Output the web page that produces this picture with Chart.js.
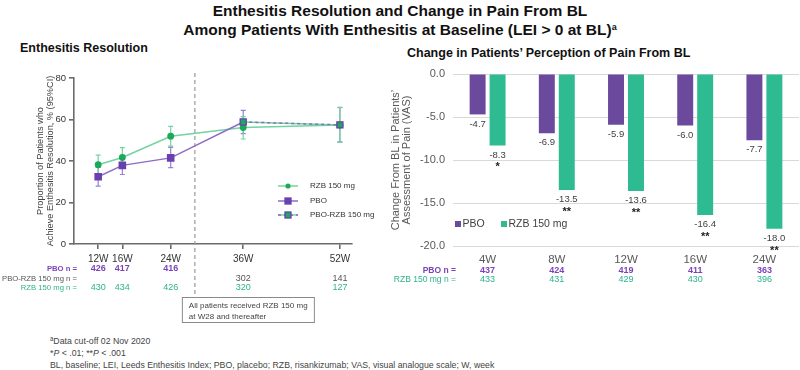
<!DOCTYPE html>
<html>
<head>
<meta charset="utf-8">
<script src="https://cdn.jsdelivr.net/npm/chart.js@4.4.1/dist/chart.umd.min.js"></script>
<style>
    html, body { margin: 0; padding: 0; background: #fff; }
    body { width: 800px; height: 370px; position: relative; overflow: hidden; font-family: 'Liberation Sans', Arial, sans-serif; }
    .title { position: absolute; left: 0; top: 2px; width: 800px; text-align: center; font-weight: bold; font-size: 15.5px; line-height: 17px; color: #111; }
    .title sup { font-size: 9px; vertical-align: 5px; }
    .subtitle { position: absolute; font-weight: bold; font-size: 12.5px; line-height: 14px; color: #111; white-space: nowrap; }
    #leftWrap { position: absolute; left: 0; top: 40px; width: 395px; height: 290px; }
    #rightWrap { position: absolute; left: 390px; top: 40px; width: 410px; height: 250px; }
    .notes { position: absolute; left: 50px; top: 333px; font-size: 9.5px; line-height: 11.8px; color: #444; white-space: nowrap; transform: scaleX(0.92); transform-origin: left top; }
    .notes sup { font-size: 6.5px; vertical-align: 3px; }
</style>
</head>
<body>
<div class="title">Enthesitis Resolution and Change in Pain From BL<br>Among Patients With Enthesitis at Baseline (LEI &gt; 0 at BL)<sup>a</sup></div>
<div class="subtitle" style="left:20px; top:41px;">Enthesitis Resolution</div>
<div class="subtitle" style="left:407px; top:46px;">Change in Patients’ Perception of Pain From BL</div>
<div id="leftWrap"><canvas id="resolutionChart" width="395" height="290"></canvas></div>
<div id="rightWrap"><canvas id="painChart" width="410" height="250"></canvas></div>
<div class="notes">
    <sup>a</sup>Data cut-off 02 Nov 2020<br>
    *<i>P</i> &lt; .01; **<i>P</i> &lt; .001<br>
    BL, baseline; LEI, Leeds Enthesitis Index; PBO, placebo; RZB, risankizumab; VAS, visual analogue scale; W, week
</div>
<script>
// ---- Enthesitis resolution (left panel) ----
const resolutionWeeks = [12, 16, 24, 36, 52];
const resolutionTickLabels = ['12W', '16W', '24W', '36W', '52W'];
const rzbResolution = [38.2, 41.7, 51.9, 56.1, 57.3];
const rzbResolutionLow = [33.6, 37.0, 47.2, 50.6, 49.0];
const rzbResolutionHigh = [42.8, 46.4, 56.7, 61.4, 65.7];
const pboWeeks = [12, 16, 24];
const pboResolution = [32.4, 37.9, 41.5];
const pboResolutionLow = [27.9, 33.5, 36.8];
const pboResolutionHigh = [36.9, 42.3, 46.6];
const pboRzbWeeks = [36, 52];
const pboRzbResolution = [58.8, 57.4];
const pboRzbResolutionLow = [53.2, 49.2];
const pboRzbResolutionHigh = [64.4, 65.8];
const switchWeek = 28;
const pboN = [426, 417, 416, null, null];
const pboRzbN = [null, null, null, 302, 141];
const rzbN = [430, 434, 426, 320, 127];

// ---- Change in pain from BL (right panel) ----
const painVisits = ['4W', '8W', '12W', '16W', '24W'];
const pboPainChange = [-4.7, -6.9, -5.9, -6.0, -7.7];
const rzbPainChange = [-8.3, -13.5, -13.6, -16.4, -18.0];
const rzbPainSignificance = ['*', '**', '**', '**', '**'];
const pboPainN = [437, 424, 419, 411, 363];
const rzbPainN = [433, 431, 429, 430, 396];

const FONT = "'Liberation Sans', Arial, sans-serif";
const AXIS = '#6b6b6b';
const PURPLE_LINE = '#8d6cc9';
const PURPLE_POINT = '#6a3fb0';
const GREEN_LINE = '#74d3a2';
const GREEN_POINT = '#1bab58';
const PURPLE_BAR = '#6b4a9e';
const GREEN_BAR = '#2fbb92';
const PURPLE_TEXT = '#7a44b8';
const GREEN_TEXT = '#2db38a';

Chart.defaults.font.family = FONT;

const toPoints = (weeks, values) => weeks.map((w, i) => ({ x: w, y: values[i] }));

/**
 * Draws 95% CI whiskers for datasets carrying errorLow / errorHigh
 */
const errorBarPlugin = {
    id: 'errorBars',
    beforeDatasetsDraw(chart) {
        const { ctx, scales: { x, y } } = chart;
        chart.data.datasets.forEach(ds => {
            if (!ds.errorLow) return;
            ctx.save();
            ctx.strokeStyle = ds.errorColor;
            ctx.lineWidth = 1.2;
            ds.data.forEach((p, i) => {
                if (ds.errorLow[i] == null) return;
                const px = x.getPixelForValue(p.x);
                const lo = y.getPixelForValue(ds.errorLow[i]);
                const hi = y.getPixelForValue(ds.errorHigh[i]);
                ctx.beginPath();
                ctx.moveTo(px, lo);
                ctx.lineTo(px, hi);
                ctx.moveTo(px - 2.5, lo);
                ctx.lineTo(px + 2.5, lo);
                ctx.moveTo(px - 2.5, hi);
                ctx.lineTo(px + 2.5, hi);
                ctx.stroke();
            });
            ctx.restore();
        });
    }
};

/**
 * Switch line, legend, n table and note box for the left panel
 */
const resolutionExtras = {
    id: 'resolutionExtras',
    beforeDatasetsDraw(chart) {
        const { ctx, scales: { x } } = chart;
        const sx = x.getPixelForValue(switchWeek);
        ctx.save();
        ctx.strokeStyle = '#9a9a9a';
        ctx.lineWidth = 1.2;
        ctx.setLineDash([4, 3]);
        ctx.beginPath();
        ctx.moveTo(sx, 33);
        ctx.lineTo(sx, 257);
        ctx.stroke();
        ctx.restore();
    },
    afterDraw(chart) {
        const { ctx, scales: { x } } = chart;
        ctx.save();

        // legend
        const items = [
            { label: 'RZB 150 mg', y: 146, line: GREEN_LINE, dash: [], style: 'circle', fill: GREEN_POINT, stroke: GREEN_POINT },
            { label: 'PBO', y: 161, line: PURPLE_LINE, dash: [], style: 'rect', fill: PURPLE_POINT, stroke: PURPLE_POINT },
            { label: 'PBO-RZB 150 mg', y: 175, line: PURPLE_LINE, dash: [3, 3], style: 'rect', fill: GREEN_POINT, stroke: PURPLE_POINT }
        ];
        items.forEach(it => {
            if (it.dash.length) {
                ctx.strokeStyle = GREEN_LINE;
                ctx.lineWidth = 1.5;
                ctx.beginPath();
                ctx.moveTo(278, it.y);
                ctx.lineTo(298, it.y);
                ctx.stroke();
            }
            ctx.strokeStyle = it.line;
            ctx.lineWidth = 1.5;
            ctx.setLineDash(it.dash);
            ctx.beginPath();
            ctx.moveTo(278, it.y);
            ctx.lineTo(298, it.y);
            ctx.stroke();
            ctx.setLineDash([]);
            ctx.fillStyle = it.fill;
            ctx.strokeStyle = it.stroke;
            if (it.style === 'circle') {
                ctx.beginPath();
                ctx.arc(288, it.y, 2.6, 0, Math.PI * 2);
                ctx.fill();
            } else {
                ctx.fillRect(285, it.y - 3, 6, 6);
                ctx.lineWidth = 1.3;
                ctx.strokeRect(285, it.y - 3, 6, 6);
            }
            ctx.fillStyle = '#333';
            ctx.font = '8px ' + FONT;
            ctx.textAlign = 'left';
            ctx.textBaseline = 'middle';
            ctx.fillText(it.label, 310, it.y);
        });

        // n table
        const rows = [
            { label: 'PBO n =', values: pboN, color: PURPLE_TEXT, bold: true, y: 229 },
            { label: 'PBO-RZB 150 mg n =', values: pboRzbN, color: '#555', bold: false, y: 238.5 },
            { label: 'RZB 150 mg n =', values: rzbN, color: GREEN_TEXT, bold: false, y: 248 }
        ];
        ctx.textBaseline = 'middle';
        rows.forEach(r => {
            ctx.fillStyle = r.color;
            ctx.font = (r.bold ? 'bold ' : '') + '7.7px ' + FONT;
            ctx.textAlign = 'right';
            ctx.fillText(r.label, 77, r.y);
            ctx.font = (r.bold ? 'bold ' : '') + '9px ' + FONT;
            ctx.textAlign = 'center';
            r.values.forEach((v, i) => {
                if (v == null) return;
                ctx.fillText(String(v), x.getPixelForValue(resolutionWeeks[i]), r.y);
            });
        });

        // note box
        const bx = x.getPixelForValue(switchWeek) - 13;
        ctx.strokeStyle = '#8a8a8a';
        ctx.lineWidth = 1;
        ctx.strokeRect(bx + 0.5, 257.5, 132, 25);
        ctx.fillStyle = '#444';
        ctx.font = '8px ' + FONT;
        ctx.textAlign = 'left';
        ctx.fillText('All patients received RZB 150 mg', bx + 7, 265.5);
        ctx.fillText('at W28 and thereafter', bx + 7, 276.5);
        ctx.restore();
    }
};

/**
 * Value labels, significance marks, legend and n table for the right panel
 */
const painExtras = {
    id: 'painExtras',
    afterDatasetsDraw(chart) {
        const { ctx, scales: { x } } = chart;
        const pboMeta = chart.getDatasetMeta(0);
        const rzbMeta = chart.getDatasetMeta(1);
        ctx.save();
        ctx.textAlign = 'center';
        ctx.textBaseline = 'middle';
        ctx.font = '9.5px ' + FONT;
        ctx.fillStyle = '#404040';
        pboMeta.data.forEach((bar, i) => ctx.fillText(pboPainChange[i].toFixed(1), bar.x, bar.y + 9.5));
        rzbMeta.data.forEach((bar, i) => ctx.fillText(rzbPainChange[i].toFixed(1), bar.x, bar.y + 9.5));
        ctx.font = 'bold 11px ' + FONT;
        ctx.fillStyle = '#222';
        ctx.textBaseline = 'alphabetic';
        rzbMeta.data.forEach((bar, i) => ctx.fillText(rzbPainSignificance[i], bar.x, bar.y + 25));

        // legend
        ctx.textAlign = 'left';
        ctx.textBaseline = 'middle';
        ctx.font = '10.5px ' + FONT;
        ctx.fillStyle = PURPLE_BAR;
        ctx.fillRect(65, 181, 6, 6);
        ctx.fillStyle = '#404040';
        ctx.fillText('PBO', 72.5, 184);
        ctx.fillStyle = GREEN_BAR;
        ctx.fillRect(111, 181, 6, 6);
        ctx.fillStyle = '#404040';
        ctx.fillText('RZB 150 mg', 118.5, 184);

        // n table
        const rows = [
            { label: 'PBO n =', values: pboPainN, color: PURPLE_TEXT, bold: true, y: 230.5 },
            { label: 'RZB 150 mg n =', values: rzbPainN, color: GREEN_TEXT, bold: false, y: 240 }
        ];
        rows.forEach(r => {
            ctx.fillStyle = r.color;
            ctx.font = (r.bold ? 'bold ' : '') + '8.5px ' + FONT;
            ctx.textAlign = 'right';
            ctx.fillText(r.label, 66, r.y);
            ctx.font = (r.bold ? 'bold ' : '') + '9px ' + FONT;
            ctx.textAlign = 'center';
            r.values.forEach((v, i) => ctx.fillText(String(v), x.getPixelForValue(i), r.y));
        });
        ctx.restore();
    }
};

new Chart(document.getElementById('resolutionChart'), {
    type: 'line',
    data: {
        datasets: [
            {
                label: 'PBO-RZB 150 mg',
                data: toPoints(pboRzbWeeks, pboRzbResolution),
                borderColor: PURPLE_LINE,
                borderWidth: 1.5,
                borderDash: [3, 3],
                pointStyle: 'rect',
                pointRadius: 4.3,
                pointBackgroundColor: GREEN_POINT,
                pointBorderColor: PURPLE_POINT,
                pointBorderWidth: 1.3,
                errorLow: pboRzbResolutionLow,
                errorHigh: pboRzbResolutionHigh,
                errorColor: '#9a80d4',
                order: 0
            },
            {
                label: 'PBO',
                data: toPoints(pboWeeks, pboResolution).concat([{ x: pboRzbWeeks[0], y: pboRzbResolution[0] }]),
                borderColor: PURPLE_LINE,
                borderWidth: 1.5,
                pointStyle: 'rect',
                pointRadius: [4.3, 4.3, 4.3, 0],
                pointBackgroundColor: PURPLE_POINT,
                pointBorderColor: PURPLE_POINT,
                errorLow: pboResolutionLow,
                errorHigh: pboResolutionHigh,
                errorColor: '#9a80d4',
                order: 1
            },
            {
                label: 'RZB 150 mg',
                data: toPoints(resolutionWeeks, rzbResolution),
                borderColor: GREEN_LINE,
                borderWidth: 1.5,
                pointStyle: 'circle',
                pointRadius: 2.7,
                pointBackgroundColor: GREEN_POINT,
                pointBorderColor: GREEN_POINT,
                errorLow: rzbResolutionLow,
                errorHigh: rzbResolutionHigh,
                errorColor: GREEN_LINE,
                order: 2
            },
            {
                // green base under the dashed PBO-RZB segment
                label: 'PBO-RZB base',
                data: toPoints(pboRzbWeeks, pboRzbResolution),
                borderColor: GREEN_LINE,
                borderWidth: 1.5,
                pointRadius: 0,
                order: 3
            }
        ]
    },
    options: {
        responsive: false,
        animation: false,
        events: [],
        layout: { padding: { left: 0, right: 43, top: 38, bottom: 0 } },
        plugins: { legend: { display: false }, tooltip: { enabled: false } },
        scales: {
            x: {
                type: 'linear',
                min: 8,
                max: 54,
                afterBuildTicks: axis => { axis.ticks = resolutionWeeks.map(v => ({ value: v })); },
                afterFit: axis => { axis.height = 86; },
                border: { color: AXIS, width: 1.6 },
                grid: { drawOnChartArea: false, color: AXIS, tickLength: 5, lineWidth: 1.6 },
                ticks: {
                    color: '#333',
                    font: { size: 10 },
                    padding: 4,
                    autoSkip: false,
                    maxRotation: 0,
                    callback: (v, i) => resolutionTickLabels[i]
                }
            },
            y: {
                min: 0,
                max: 80,
                afterFit: axis => { axis.width = 74; },
                border: { color: AXIS, width: 1.6 },
                grid: { drawOnChartArea: false, color: AXIS, tickLength: 5, lineWidth: 1.6 },
                ticks: { stepSize: 20, color: '#333', font: { size: 9.5 }, padding: 3 },
                title: {
                    display: true,
                    text: ['Proportion of Patients who', 'Achieve Enthesitis Resolution, % (95%CI)'],
                    color: '#444',
                    font: { size: 9.2, lineHeight: 1.05 },
                    padding: { top: 36, bottom: 0 }
                }
            }
        }
    },
    plugins: [errorBarPlugin, resolutionExtras]
});

new Chart(document.getElementById('painChart'), {
    type: 'bar',
    data: {
        labels: painVisits,
        datasets: [
            {
                label: 'PBO',
                data: pboPainChange,
                backgroundColor: PURPLE_BAR,
                categoryPercentage: 0.577,
                barPercentage: 0.8
            },
            {
                label: 'RZB 150 mg',
                data: rzbPainChange,
                backgroundColor: GREEN_BAR,
                categoryPercentage: 0.577,
                barPercentage: 0.8
            }
        ]
    },
    options: {
        responsive: false,
        animation: false,
        events: [],
        layout: { padding: { left: 0, right: 1, top: 34, bottom: 0 } },
        plugins: { legend: { display: false }, tooltip: { enabled: false } },
        scales: {
            x: {
                afterFit: axis => { axis.height = 44; },
                grid: { display: false, drawTicks: false },
                border: { display: false },
                ticks: { color: '#595959', font: { size: 11.5 }, padding: 7 }
            },
            y: {
                min: -20,
                max: 0,
                afterFit: axis => { axis.width = 63; },
                grid: { color: '#d9d9d9', drawTicks: false },
                border: { display: false },
                ticks: {
                    stepSize: 5,
                    color: '#595959',
                    font: { size: 11 },
                    padding: 8,
                    callback: v => v.toFixed(1)
                },
                title: {
                    display: true,
                    text: ['Change From BL in Patients’', 'Assessment of Pain (VAS)'],
                    color: '#595959',
                    font: { size: 11, lineHeight: 1.05 },
                    padding: { top: 0, bottom: 0 }
                }
            }
        }
    },
    plugins: [painExtras]
});
</script>
</body>
</html>
